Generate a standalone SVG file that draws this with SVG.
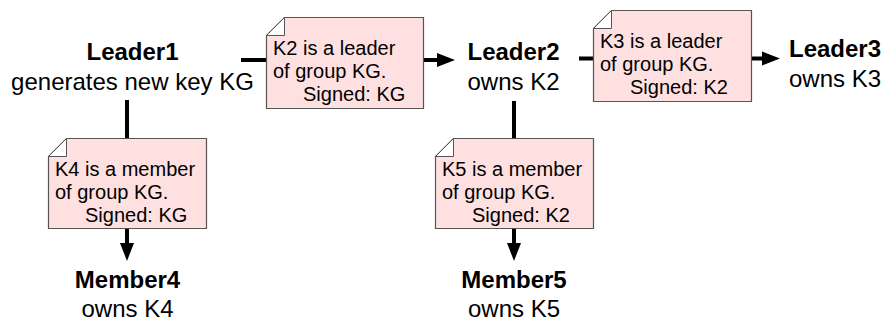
<svg xmlns="http://www.w3.org/2000/svg" width="885" height="322" viewBox="0 0 885 322">
  <style>
    .lbl { font-family: "Liberation Sans", Arial, sans-serif; font-size: 24px; fill: #000; text-anchor: middle; }
    .bold { font-weight: bold; }
    .note-body { fill: #ffe0e0; stroke: #555; stroke-width: 1.2; }
    .note-flap { fill: #fff; stroke: #555; stroke-width: 1; }
    .note-text { font-family: "Liberation Sans", Arial, sans-serif; font-size: 20px; fill: #000; }
    .wire { fill: none; stroke: #000; stroke-width: 4; }
  </style>
  <defs>
    <marker id="arrow" markerUnits="userSpaceOnUse" markerWidth="19" markerHeight="16" refX="0" refY="8" orient="auto">
      <path d="M0,1 L18,8 L0,15 Z" fill="#000"/>
    </marker>
    <!-- note outline with cut top-left corner, 158 x 91 -->
    <path id="noteShape" d="M18,0 H158 V91 H0 V18 Z"/>
  </defs>

  <!-- connectors -->
  <g id="connectors">
    <path class="wire" d="M241,60 H266.5"/>
    <path class="wire" d="M424,60 H437" marker-end="url(#arrow)"/>
    <path class="wire" d="M579,58.5 H593.5"/>
    <path class="wire" d="M751.5,58.5 H762" marker-end="url(#arrow)"/>
    <path class="wire" d="M127,100 V138.5"/>
    <path class="wire" d="M127,228.5 V243" marker-end="url(#arrow)"/>
    <path class="wire" d="M514,101 V138.5"/>
    <path class="wire" d="M514,228.5 V243" marker-end="url(#arrow)"/>
  </g>

  <!-- principals -->
  <g id="leader1">
    <text class="lbl bold" x="132.5" y="60">Leader1</text>
    <text class="lbl" x="132.5" y="90">generates new key KG</text>
  </g>
  <g id="leader2">
    <text class="lbl bold" x="513.5" y="60">Leader2</text>
    <text class="lbl" x="513.5" y="89.5">owns K2</text>
  </g>
  <g id="leader3">
    <text class="lbl bold" x="835" y="57">Leader3</text>
    <text class="lbl" x="835" y="86.5">owns K3</text>
  </g>
  <g id="member4">
    <text class="lbl bold" x="127.5" y="288">Member4</text>
    <text class="lbl" x="127.5" y="317">owns K4</text>
  </g>
  <g id="member5">
    <text class="lbl bold" x="514" y="288">Member5</text>
    <text class="lbl" x="514" y="317">owns K5</text>
  </g>

  <!-- certificates -->
  <g id="cert-k2" transform="translate(266.5,17.5)">
    <path class="note-body" d="M18,0 H157 V91 H0 V18 Z"/>
    <path class="note-flap" d="M0,18 L18,0 V18 Z"/>
    <text class="note-text" x="6.5" y="37.5">K2 is a leader</text>
    <text class="note-text" x="6.5" y="60.5">of group KG.</text>
    <text class="note-text" x="36.5" y="83.5">Signed: KG</text>
  </g>
  <g id="cert-k3" transform="translate(593.5,10.5)">
    <path class="note-body" d="M18,0 H158 V91 H0 V18 Z"/>
    <path class="note-flap" d="M0,18 L18,0 V18 Z"/>
    <text class="note-text" x="6.5" y="37.5">K3 is a leader</text>
    <text class="note-text" x="6.5" y="60.5">of group KG.</text>
    <text class="note-text" x="36.5" y="83.5">Signed: K2</text>
  </g>
  <g id="cert-k4" transform="translate(48.5,138.5)">
    <path class="note-body" d="M18,0 H158 V90 H0 V18 Z"/>
    <path class="note-flap" d="M0,18 L18,0 V18 Z"/>
    <text class="note-text" x="6.5" y="37.5">K4 is a member</text>
    <text class="note-text" x="6.5" y="60.5">of group KG.</text>
    <text class="note-text" x="36.5" y="83.5">Signed: KG</text>
  </g>
  <g id="cert-k5" transform="translate(435.5,138.5)">
    <path class="note-body" d="M18,0 H158 V90 H0 V18 Z"/>
    <path class="note-flap" d="M0,18 L18,0 V18 Z"/>
    <text class="note-text" x="6.5" y="37.5">K5 is a member</text>
    <text class="note-text" x="6.5" y="60.5">of group KG.</text>
    <text class="note-text" x="36.5" y="83.5">Signed: K2</text>
  </g>
</svg>
